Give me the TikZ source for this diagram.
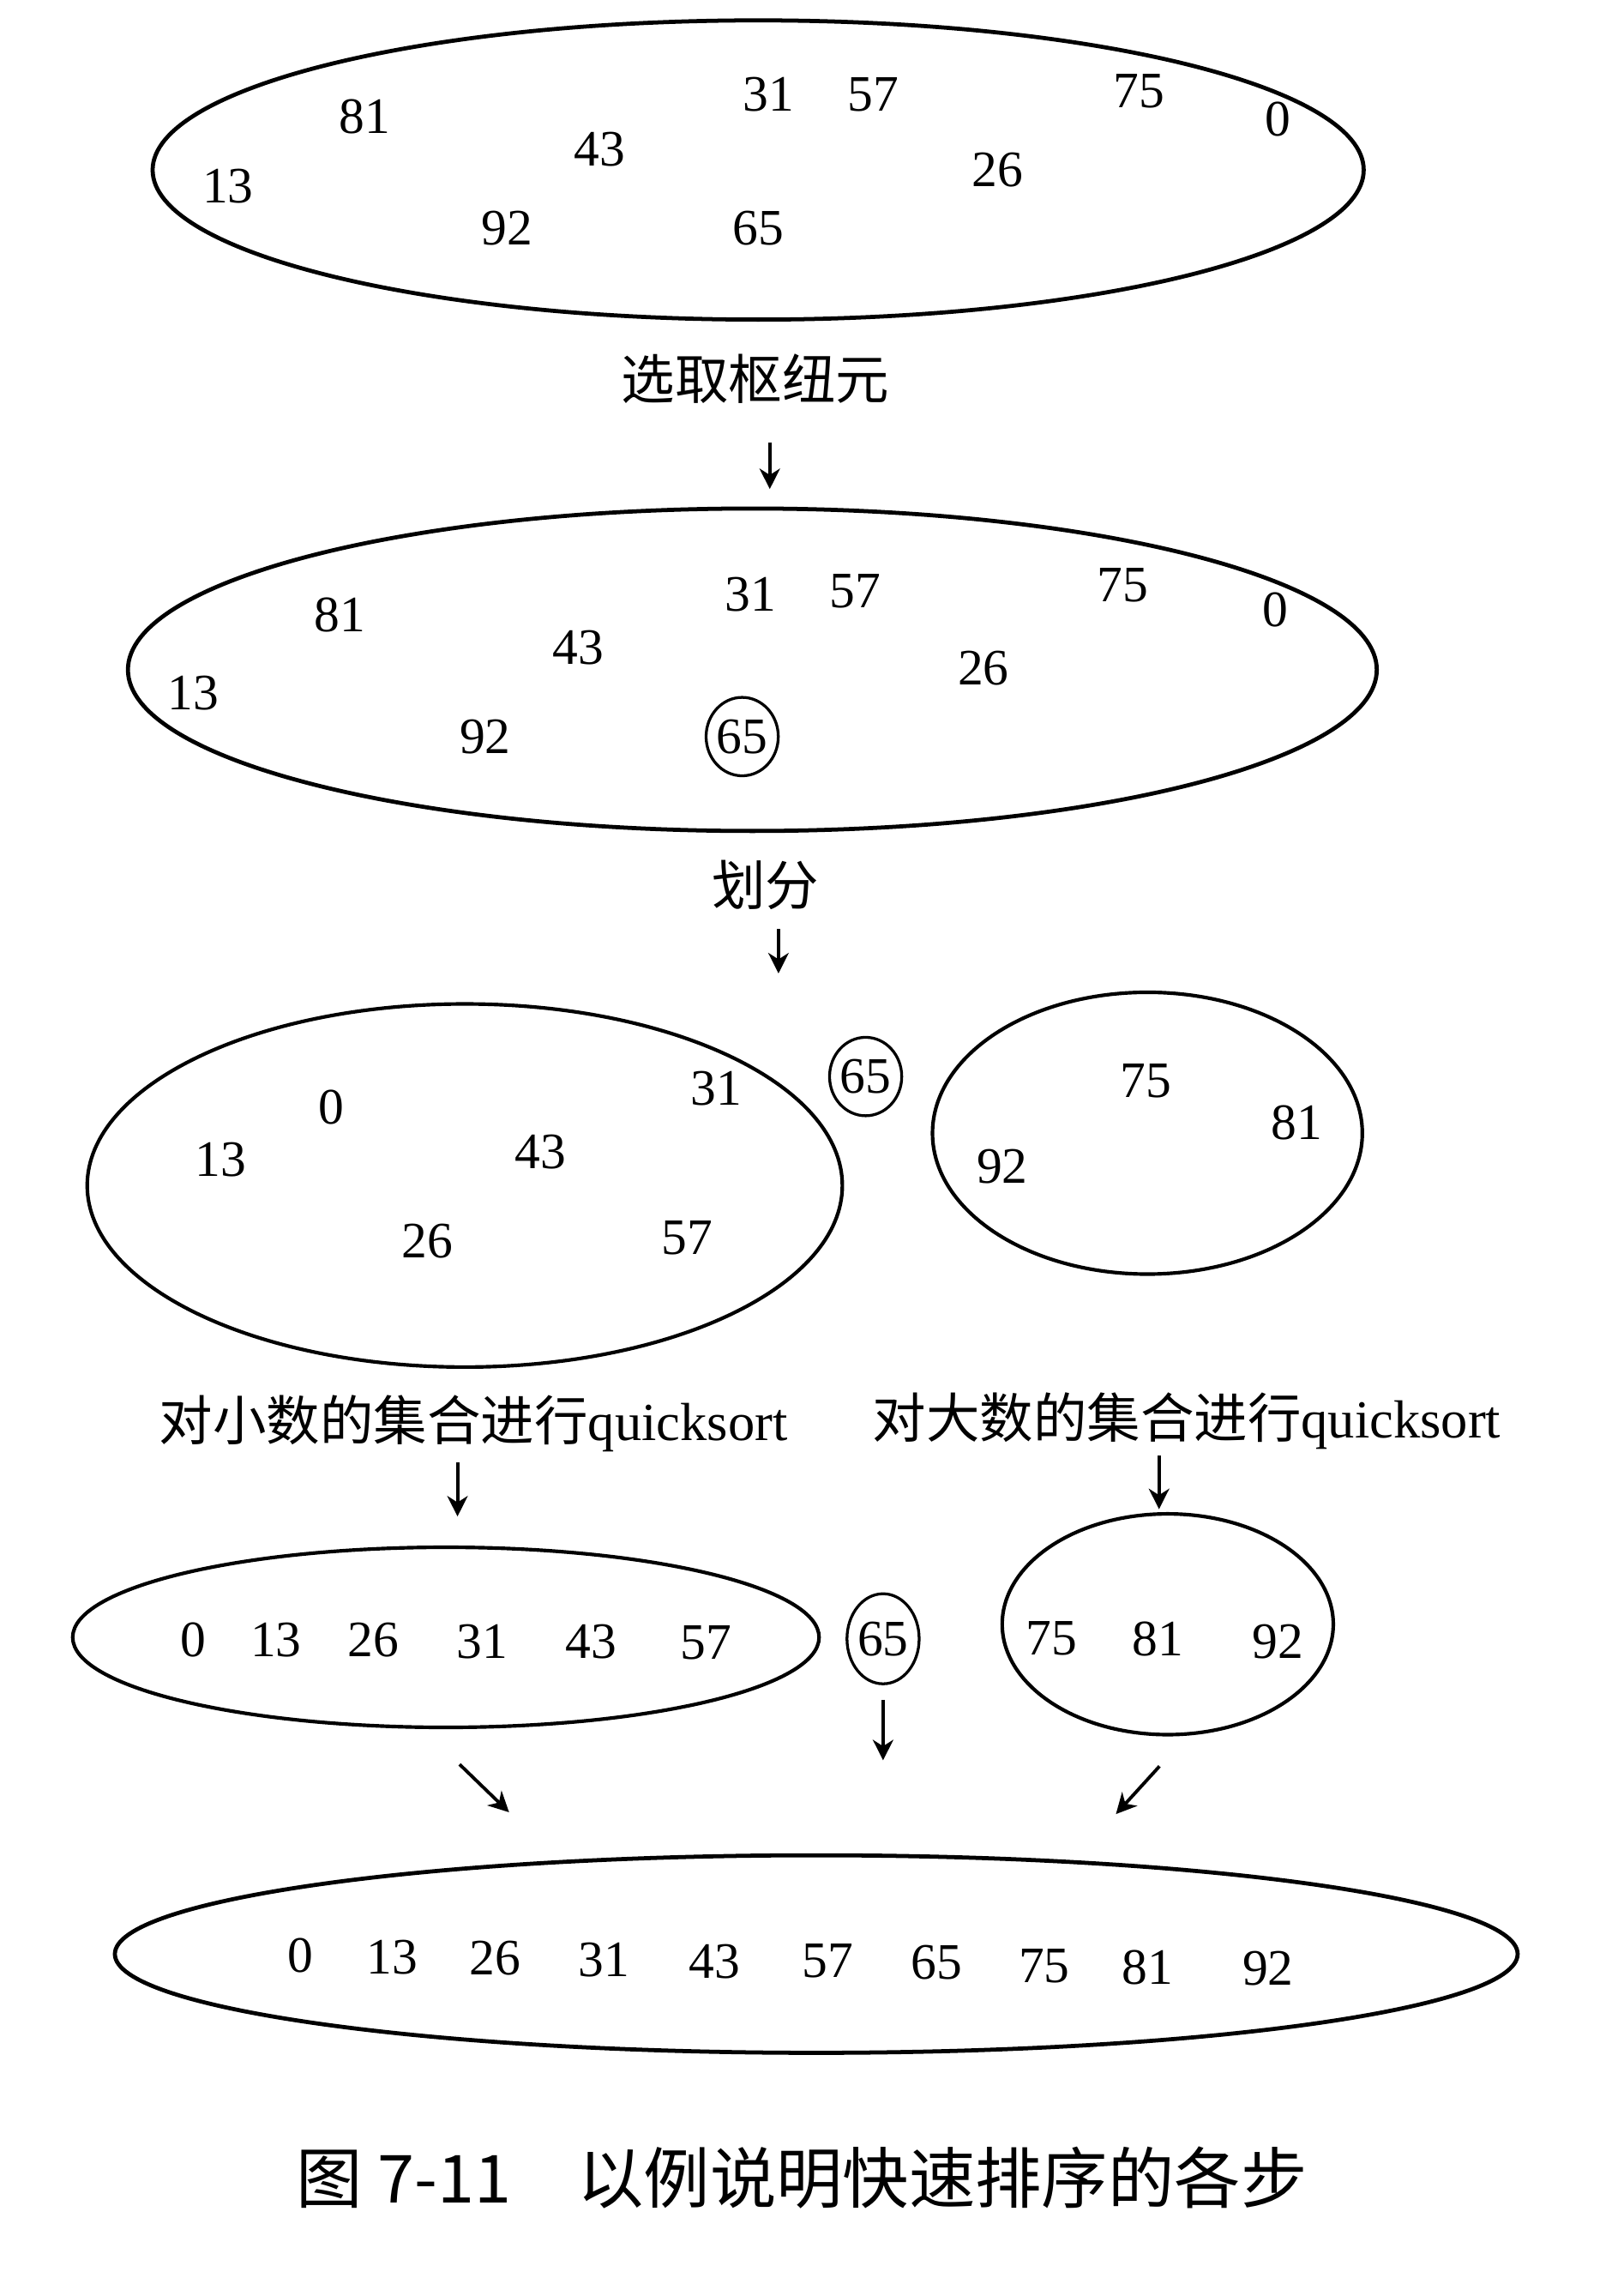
\documentclass[tikz,border=0pt]{standalone}
\usepackage{fontspec}
\setmainfont{Liberation Serif}
\newfontfamily\cjk{Noto Sans CJK SC}
\usetikzlibrary{shapes.geometric,arrows.meta,calc}

\begin{document}
\begin{tikzpicture}[x=0.02cm,y=-0.02cm,
    set/.style={draw,ellipse,line width=1.6pt,inner sep=0pt},
    pivot/.style={draw,ellipse,line width=1.1pt,inner sep=0pt,minimum width=0.92cm,minimum height=1.08cm,font=\fontsize{20}{24}\selectfont},
    num/.style={inner sep=0pt,font=\fontsize{20}{24}\selectfont},
    lbl/.style={inner sep=0pt,font=\fontsize{21}{25}\selectfont},
    arr/.style={->,line width=1.3pt},
    >={Stealth[length=8pt,width=8pt,inset=2.5pt]}]
    \fill[white] (0,0) rectangle (1118,1568);
    \useasboundingbox (0,0) rectangle (1118,1568);

    % Unsorted set
    \node[set,minimum width=16.68cm,minimum height=4.12cm] (set1) at (522,117) {};
    \node[num] (a81) at (251,80)  {81};
    \node[num] (a31) at (529,65)  {31};
    \node[num] (a57) at (601,65)  {57};
    \node[num] (a75) at (784,63)  {75};
    \node[num] (a0)  at (880,82)  {0};
    \node[num] (a43) at (413,103) {43};
    \node[num] (a13) at (157,128) {13};
    \node[num] (a26) at (687,117) {26};
    \node[num] (a92) at (349,157) {92};
    \node[num] (a65) at (522,157) {65};

    \node[lbl] (pick) at (520,261) {\cjk 选取枢纽元};

    % Set with pivot
    \node[set,minimum width=17.2cm,minimum height=4.44cm] (set2) at (518,461) {};
    \node[num] (b81) at (234,423) {81};
    \node[num] (b31) at (517,409) {31};
    \node[num] (b57) at (589,407) {57};
    \node[num] (b75) at (773,403) {75};
    \node[num] (b0)  at (878,420) {0};
    \node[num] (b43) at (398,446) {43};
    \node[num] (b13) at (133,477) {13};
    \node[num] (b26) at (677,460) {26};
    \node[num] (b92) at (334,507) {92};
    \node[pivot] (b65) at (511,507) {65};

    \draw[arr,shorten <=0.52cm,shorten >=0.24cm] ($(pick.south -| set2.north)+(12,0)$) -- ($(set2.north)+(12,0)$);

    \node[lbl] (split) at (527,609) {\cjk 划分};
    \coordinate (cut) at (536,670);
    \draw[arr,shorten <=0.26cm] (split.south -| cut) -- (cut);

    % Partition
    \node[set,line width=1.4pt,minimum width=10.4cm,minimum height=5cm] (low3) at (320,816) {};
    \node[num] (c0)  at (228,762) {0};
    \node[num] (c31) at (493,749) {31};
    \node[num] (c13) at (152,798) {13};
    \node[num] (c43) at (372,793) {43};
    \node[num] (c26) at (294,854) {26};
    \node[num] (c57) at (473,852) {57};
    \node[pivot,minimum width=0.88cm] (c65) at (596,741) {65};
    \node[set,line width=1.4pt,minimum width=5.92cm,minimum height=3.88cm] (high3) at (790,780) {};
    \node[num] (c75) at (789,744) {75};
    \node[num] (c81) at (893,773) {81};
    \node[num] (c92) at (690,803) {92};

    \node[lbl] (lsmall) at (326,980) {{\cjk 对小数的集合进行}quicksort};
    \node[lbl] (lbig)   at (817,978) {{\cjk 对大数的集合进行}quicksort};

    % Sorted parts
    \node[set,line width=1.4pt,minimum width=10.28cm,minimum height=2.48cm] (low4) at (307,1127) {};
    \node[num] (d0)  at (133,1129) {0};
    \node[num] (d13) at (190,1129) {13};
    \node[num] (d26) at (257,1129) {26};
    \node[num] (d31) at (332,1130) {31};
    \node[num] (d43) at (407,1130) {43};
    \node[num] (d57) at (486,1131) {57};
    \node[pivot,minimum height=1.24cm] (d65) at (608,1128) {65};
    \node[set,line width=1.4pt,minimum width=4.56cm,minimum height=3.04cm] (high4) at (804,1118) {};
    \node[num] (d75) at (724,1128) {75};
    \node[num] (d81) at (797,1128) {81};
    \node[num] (d92) at (880,1130) {92};

    \draw[arr,shorten <=0.14cm,shorten >=0.4cm] ($(lsmall.south -| low4.north)+(8,0)$) -- ($(low4.north)+(8,0)$);
    \draw[arr,shorten <=0.08cm,shorten >=0.04cm] ($(lbig.south -| high4.north)+(-6,0)$) -- ($(high4.north)+(-6,0)$);

    % Result
    \node[set,minimum width=19.32cm,minimum height=2.72cm] (whole) at (562,1345) {};
    \node[num] (e0)  at (207,1346) {0};
    \node[num] (e13) at (270,1347) {13};
    \node[num] (e26) at (341,1348) {26};
    \node[num] (e31) at (416,1349) {31};
    \node[num] (e43) at (492,1350) {43};
    \node[num] (e57) at (570,1350) {57};
    \node[num] (e65) at (645,1351) {65};
    \node[num] (e75) at (719,1353) {75};
    \node[num] (e81) at (790,1354) {81};
    \node[num] (e92) at (873,1355) {92};

    \draw[arr,shorten <=0.7cm,shorten >=0.95cm] (low4.-104) -- (whole.160);
    \draw[arr,shorten <=0.2cm,shorten >=1.28cm] (d65.south) -- (d65.south |- whole.north);
    \draw[arr,shorten <=0.57cm,shorten >=0.86cm] (high4.-80) -- (whole.20);

    % Caption
    \node[inner sep=0pt,font=\cjk\fontsize{26}{30}\selectfont] (caption) at (552,1499) {图 7-11\quad 以例说明快速排序的各步};
\end{tikzpicture}
\end{document}
